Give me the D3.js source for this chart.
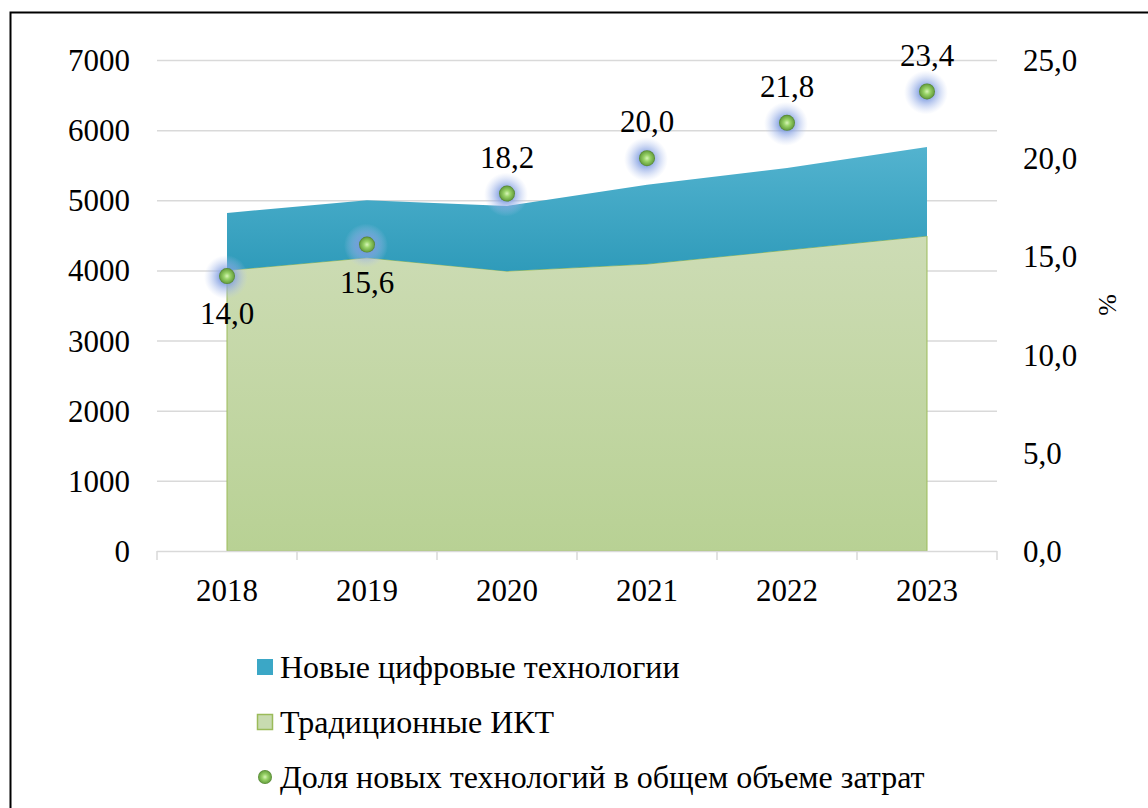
<!DOCTYPE html>
<html><head><meta charset="utf-8">
<script src="https://cdn.jsdelivr.net/npm/d3@7"></script>
<style>body{margin:0;background:#fff}svg{display:block}</style>
</head><body>
<svg id="c" width="1148" height="808"></svg>
<script>
const years = ["2018","2019","2020","2021","2022","2023"];
const traditional = [4000, 4180, 3990, 4090, 4290, 4490];
const newTech = [820, 820, 930, 1130, 1170, 1270];
const share = [14.0, 15.6, 18.2, 20.0, 21.8, 23.4];
const leftTicks = [0,1000,2000,3000,4000,5000,6000,7000];
const rightTicks = [0,5,10,15,20,25];
const legendLabels = ["Новые цифровые технологии","Традиционные ИКТ","Доля новых технологий в общем объеме затрат"];

const FONT = "Liberation Serif";
const svg = d3.select("#c");
const defs = svg.append("defs");
const gB = defs.append("linearGradient").attr("id","gb").attr("x1",0).attr("y1",0).attr("x2",0).attr("y2",1);
gB.append("stop").attr("offset","0%").attr("stop-color","#53b3cf");
gB.append("stop").attr("offset","100%").attr("stop-color","#2f9bba");
const gG = defs.append("linearGradient").attr("id","gg").attr("x1",0).attr("y1",0).attr("x2",0).attr("y2",1);
gG.append("stop").attr("offset","0%").attr("stop-color","#cddcb5");
gG.append("stop").attr("offset","100%").attr("stop-color","#b8d194");
const gM = defs.append("radialGradient").attr("id","gm").attr("cx","50%").attr("cy","50%").attr("r","55%");
gM.append("stop").attr("offset","0%").attr("stop-color","#d8f5b8");
gM.append("stop").attr("offset","35%").attr("stop-color","#9ad46a");
gM.append("stop").attr("offset","75%").attr("stop-color","#6fa845");
gM.append("stop").attr("offset","100%").attr("stop-color","#3d6a22");
const gl = defs.append("radialGradient").attr("id","glow");
gl.append("stop").attr("offset","30%").attr("stop-color","#7d9be0").attr("stop-opacity",0.85);
gl.append("stop").attr("offset","100%").attr("stop-color","#b8c8f0").attr("stop-opacity",0);

// outer frame
svg.append("rect").attr("x",10.5).attr("y",12.5).attr("width",1160).attr("height",820)
  .attr("fill","none").attr("stroke","#000").attr("stroke-width",2);

const x = d3.scalePoint().domain(years).range([227, 927]);
const xBand = d3.scaleBand().domain(years).range([157, 997]);
const yL = d3.scaleLinear().domain([0,7000]).range([551, 60]);
const yR = d3.scaleLinear().domain([0,25]).range([551, 60]);

// gridlines
svg.append("g").selectAll("line").data(leftTicks.slice(1)).join("line")
  .attr("x1",157).attr("x2",997).attr("y1",d=>yL(d)+0.5).attr("y2",d=>yL(d)+0.5)
  .attr("stroke","#d9d9d9").attr("stroke-width",1.5);

// areas
const totals = traditional.map((v,i)=>v+newTech[i]);
const areaG = d3.area().x((d,i)=>x(years[i])).y0(yL(0)).y1(d=>yL(d));
const areaB = d3.area().x((d,i)=>x(years[i])).y0((d,i)=>yL(traditional[i])).y1((d,i)=>yL(totals[i]));
svg.append("path").datum(traditional).attr("d",areaG).attr("fill","url(#gg)").attr("stroke","#9bbb59").attr("stroke-width",1);
svg.append("path").datum(totals).attr("d",areaB).attr("fill","url(#gb)");

// x axis
const xAxis = svg.append("g").attr("transform","translate(0,551)");
xAxis.append("line").attr("x1",157).attr("x2",997).attr("y1",0.5).attr("y2",0.5).attr("stroke","#d9d9d9").attr("stroke-width",1.5);
const bounds = years.map(y=>xBand(y)).concat([997]);
xAxis.selectAll(".tk").data(bounds).join("line").attr("class","tk")
  .attr("x1",d=>d).attr("x2",d=>d).attr("y1",0).attr("y2",9).attr("stroke","#d9d9d9").attr("stroke-width",1.5);
xAxis.selectAll("text").data(years).join("text")
  .attr("x",d=>x(d)).attr("y",50).attr("text-anchor","middle")
  .style("font-family",FONT).style("font-size","31px").text(d=>d);

// left axis labels
svg.append("g").selectAll("text").data(leftTicks).join("text")
  .attr("x",130).attr("y",d=>yL(d)+11).attr("text-anchor","end")
  .style("font-family",FONT).style("font-size","31px").text(d=>d);
// right axis labels
svg.append("g").selectAll("text").data(rightTicks).join("text")
  .attr("x",1023).attr("y",d=>yR(d)+11).attr("text-anchor","start")
  .style("font-family",FONT).style("font-size","31px").text(d=>d3.format(".1f")(d).replace(".",","));
svg.append("text").attr("transform","translate(1116,305) rotate(-90)").attr("text-anchor","middle")
  .style("font-family",FONT).style("font-size","26px").text("%");

// markers
const mk = svg.append("g");
mk.selectAll("circle.glow").data(share).join("circle").attr("class","glow")
  .attr("cx",(d,i)=>x(years[i])-1).attr("cy",d=>yR(d)+1).attr("r",22).attr("fill","url(#glow)");
mk.selectAll("circle.dot").data(share).join("circle").attr("class","dot")
  .attr("cx",(d,i)=>x(years[i])).attr("cy",d=>yR(d)).attr("r",8).attr("fill","url(#gm)");

// data labels
const lblOff = [48,48,-26,-26,-26,-25];
svg.append("g").selectAll("text").data(share).join("text")
  .attr("x",(d,i)=>x(years[i])).attr("y",(d,i)=>yR(d)+lblOff[i])
  .attr("text-anchor","middle").style("font-family",FONT).style("font-size","31px")
  .text(d=>d3.format(".1f")(d).replace(".",","));

// legend
const lg = svg.append("g");
const ly = [667, 722, 777];
lg.append("rect").attr("x",257).attr("y",ly[0]-8).attr("width",16).attr("height",16).attr("fill","#3ba7c6");
lg.append("rect").attr("x",257.5).attr("y",ly[1]-7.5).attr("width",15).attr("height",15).attr("fill","#c8dbb0").attr("stroke","#9bbb59").attr("stroke-width",1.5);
lg.append("circle").attr("cx",265).attr("cy",ly[2]).attr("r",7).attr("fill","url(#gm)");
lg.selectAll("text").data(legendLabels).join("text")
  .attr("x",280).attr("y",(d,i)=>ly[i]+11).style("font-family",FONT).style("font-size","32px").text(d=>d);
</script>
</body></html>
